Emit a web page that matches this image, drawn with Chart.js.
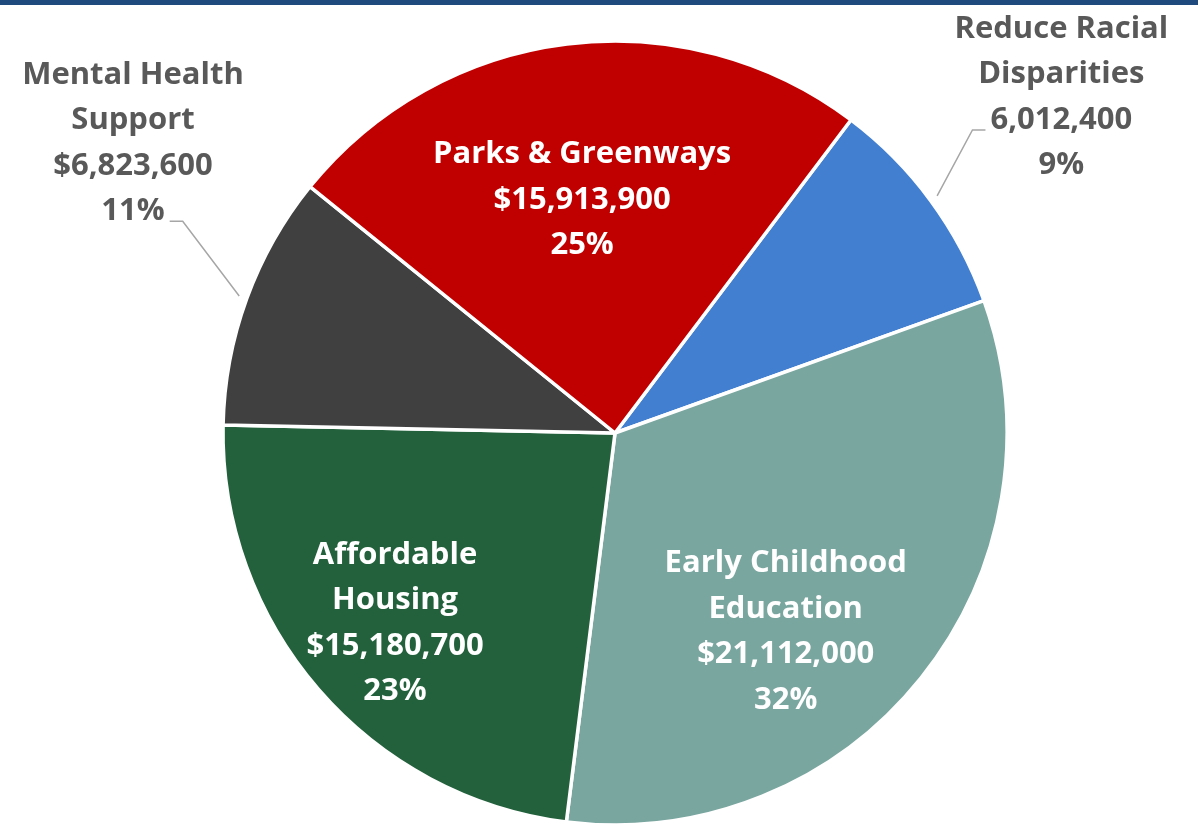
<!DOCTYPE html>
<html>
<head>
<meta charset="utf-8">
<script src="https://cdn.jsdelivr.net/npm/chart.js@4.4.1/dist/chart.umd.min.js"></script>
<style>
  html, body { margin: 0; padding: 0; background: #fff; }
  #wrap { position: relative; width: 1198px; height: 824px; }
  #topbar { position: absolute; left: 0; top: 0; width: 1198px; height: 5px; background: #1f4a7e; z-index: 2; }
  canvas { display: block; }
</style>
</head>
<body>
<div id="wrap">
  <div id="topbar"></div>
  <canvas id="pie" width="1198" height="824"></canvas>
</div>
<script>
// slices in drawing order, clockwise from about 37 degrees past 12 o'clock
const categories = [
  ["Reduce Racial", "Disparities"],
  ["Early Childhood", "Education"],
  ["Affordable", "Housing"],
  ["Mental Health", "Support"],
  ["Parks & Greenways"]
];
const amounts = [6012400, 21112000, 15180700, 6823600, 15913900];
const amountText = ["6,012,400", "$21,112,000", "$15,180,700", "$6,823,600", "$15,913,900"];
// percentages as printed on the original chart
const percentText = ["9%", "32%", "23%", "11%", "25%"];
const sliceColors = ["#427fd0", "#7aa6a0", "#22613c", "#404040", "#c00000"];

// label placement: distance as fraction of radius, angle nudge (deg), outside?
const labelDist = [1.425, 0.668, 0.742, 1.435, 0.60];
const labelTurn = [-0.6, 10.6, 0.0, 11.0, -1.0];
const labelOutside = [true, false, false, true, false];

const FONT = "bold 31px 'Open Sans'";
const LINE_H = 45.5;

const labelPlugin = {
  id: "sliceLabels",
  afterDatasetsDraw(chart) {
    const ctx = chart.ctx;
    const arcs = chart.getDatasetMeta(0).data;
    ctx.save();
    ctx.font = FONT;
    ctx.textAlign = "center";
    ctx.textBaseline = "middle";
    arcs.forEach((arc, i) => {
      const p = arc.getProps(["x", "y", "startAngle", "endAngle", "outerRadius"], true);
      const mid = (p.startAngle + p.endAngle) / 2;
      const a = mid + labelTurn[i] * Math.PI / 180;
      const cx = p.x + Math.cos(a) * p.outerRadius * labelDist[i];
      const cy = p.y + Math.sin(a) * p.outerRadius * labelDist[i];
      const lines = categories[i].concat([amountText[i], percentText[i]]);
      const top = cy - (lines.length - 1) * LINE_H / 2;
      ctx.fillStyle = labelOutside[i] ? "#595959" : "#ffffff";
      lines.forEach((t, k) => ctx.fillText(t, cx, top + k * LINE_H));

      if (labelOutside[i]) {
        // leader line from slice edge to the amount / percent line
        const sx = p.x + Math.cos(mid) * (p.outerRadius + 8);
        const sy = p.y + Math.sin(mid) * (p.outerRadius + 8);
        const k = i === 0 ? 2 : 3;
        const w = ctx.measureText(lines[k]).width;
        const ly = top + k * LINE_H + 10;
        const dir = Math.cos(mid) > 0 ? -1 : 1;
        const edge = cx + dir * w / 2;
        ctx.strokeStyle = "#a6a6a6";
        ctx.lineWidth = 1.5;
        ctx.beginPath();
        ctx.moveTo(sx, sy);
        ctx.lineTo(edge + dir * 18, ly);
        ctx.lineTo(edge + dir * 5, ly);
        ctx.stroke();
      }
    });
    ctx.restore();
  }
};

document.fonts.load(FONT).then(draw, draw);

function draw() {
  new Chart(document.getElementById("pie"), {
    type: "pie",
    data: {
      labels: categories.map(c => c.join(" ")),
      datasets: [{
        data: amounts,
        backgroundColor: sliceColors,
        borderColor: "#ffffff",
        borderWidth: 3.5,
        radius: 392,
        clip: false
      }]
    },
    options: {
      responsive: false,
      animation: false,
      rotation: 37,
      layout: { padding: { left: 32, top: 42, right: 0, bottom: 0 } },
      plugins: {
        legend: { display: false },
        tooltip: { enabled: false }
      }
    },
    plugins: [labelPlugin]
  });
}
</script>
</body>
</html>
